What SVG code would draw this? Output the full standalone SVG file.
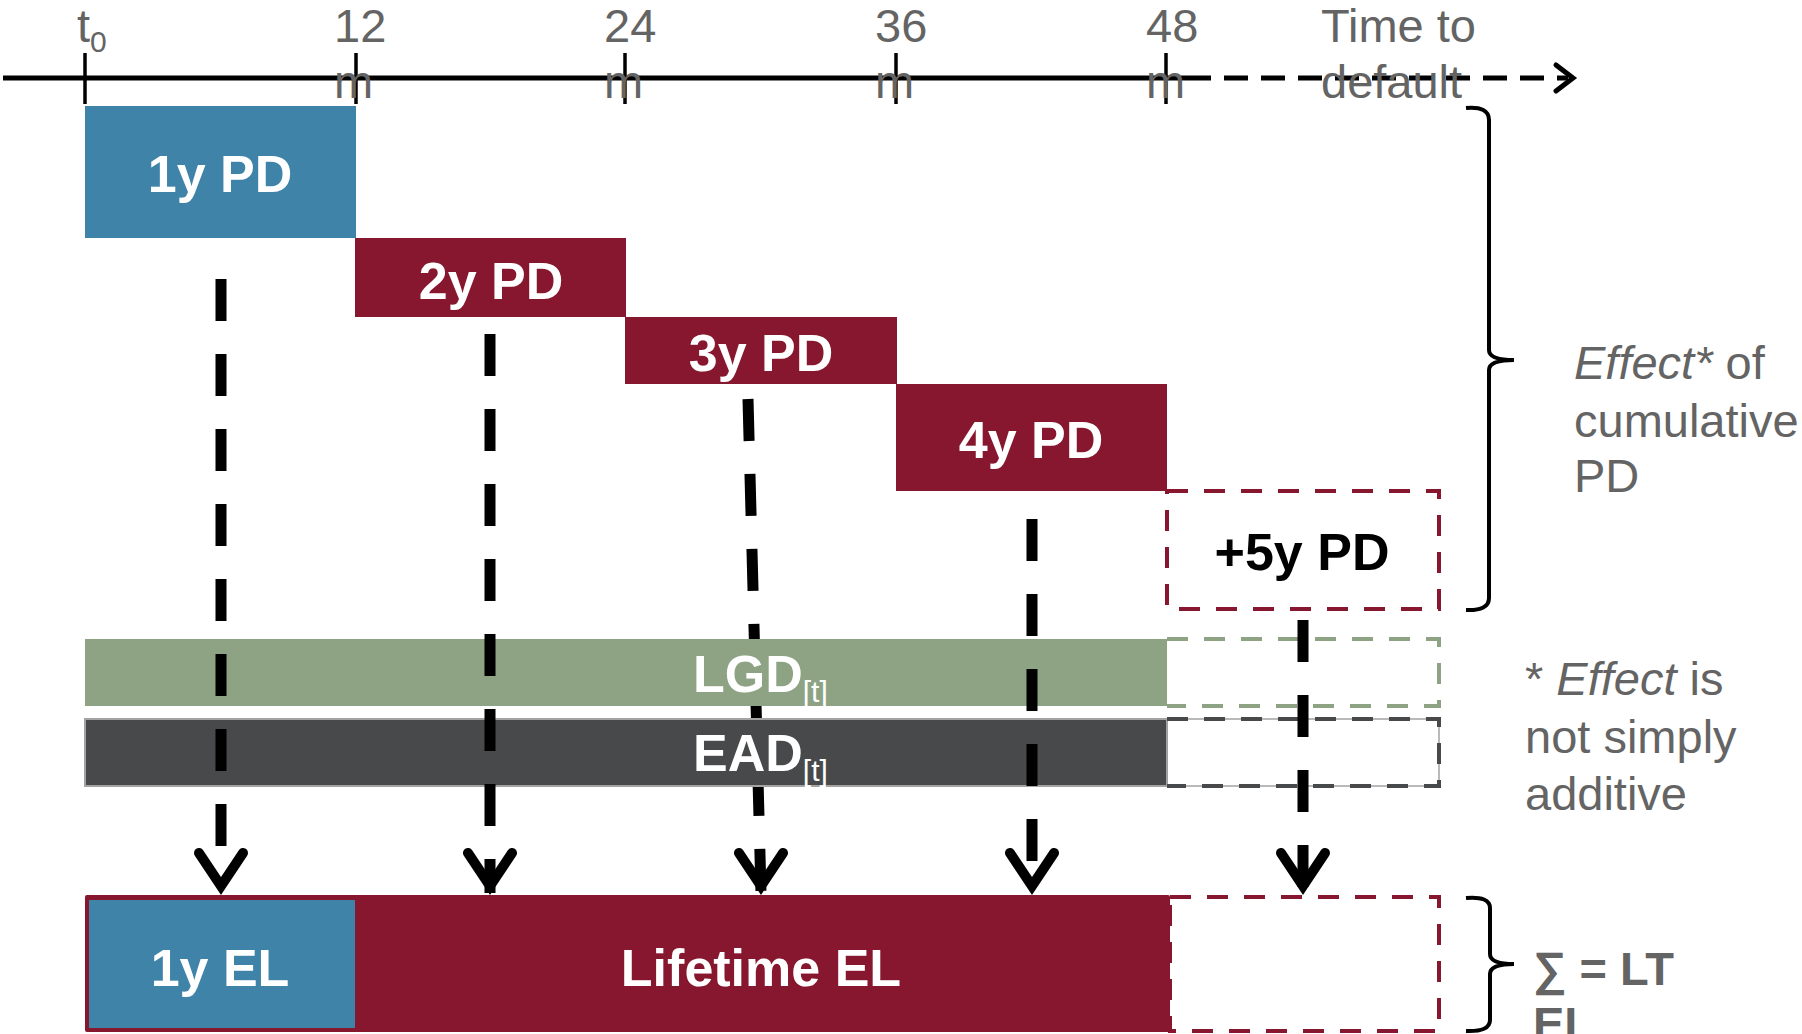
<svg xmlns="http://www.w3.org/2000/svg" width="1802" height="1034" viewBox="0 0 1802 1034">
<style>
.lbl{font-family:"Liberation Sans",Arial,sans-serif;font-size:47px;fill:#646464}
.bw{font-family:"Liberation Sans",Arial,sans-serif;font-size:52px;font-weight:bold;fill:#ffffff;text-anchor:middle}
.sub{font-family:"Liberation Sans",Arial,sans-serif;font-size:30px;font-weight:normal;fill:#ffffff}
.red{fill:#86172e}
.blue{fill:#4083a8}
.dash{fill:none;stroke-width:4;stroke-dasharray:21 16}
.arr{fill:none;stroke:#000;stroke-width:11;stroke-dasharray:42 33}
.head{fill:none;stroke:#000;stroke-width:10;stroke-linecap:round;stroke-linejoin:miter}
.br{fill:none;stroke:#000;stroke-width:4}
</style>
<rect width="1802" height="1034" fill="#ffffff"/>

<g id="axis">
  <line x1="3" y1="78" x2="1187" y2="78" stroke="#000" stroke-width="5"/>
  <line x1="1187" y1="78" x2="1568" y2="78" stroke="#000" stroke-width="5" stroke-dasharray="24 13"/>
  <polyline points="1556,65 1573,78 1556,91" fill="none" stroke="#000" stroke-width="5" stroke-linecap="round"/>
  <g stroke="#000" stroke-width="3.5">
    <line x1="85" y1="53" x2="85" y2="104"/>
    <line x1="356" y1="53" x2="356" y2="104"/>
    <line x1="625" y1="53" x2="625" y2="104"/>
    <line x1="896" y1="53" x2="896" y2="104"/>
    <line x1="1166" y1="53" x2="1166" y2="104"/>
  </g>
  <text class="lbl" x="77" y="42">t<tspan font-size="30" dy="10">0</tspan></text>
  <text class="lbl" x="334" y="42">12</text><text class="lbl" x="334" y="98">m</text>
  <text class="lbl" x="604" y="42">24</text><text class="lbl" x="604" y="98">m</text>
  <text class="lbl" x="875" y="42">36</text><text class="lbl" x="875" y="98">m</text>
  <text class="lbl" x="1146" y="42">48</text><text class="lbl" x="1146" y="98">m</text>
  <text class="lbl" x="1321" y="42">Time to</text>
  <text class="lbl" x="1321" y="98">default</text>
</g>

<g id="connectors-behind">
  <line class="arr" x1="748" y1="399" x2="761" y2="893"/>
  <polyline class="head" points="739,853 761,886 783,853"/>
</g>

<g id="pd1">
  <rect class="blue" x="85" y="106" width="271" height="132"/>
  <text class="bw" x="220" y="192">1y PD</text>
</g>
<g id="pd2">
  <rect class="red" x="355" y="238" width="271" height="79"/>
  <text class="bw" x="491" y="299">2y PD</text>
</g>
<g id="pd3">
  <rect class="red" x="625" y="317" width="272" height="67"/>
  <text class="bw" x="761" y="371">3y PD</text>
</g>
<g id="pd4">
  <rect class="red" x="896" y="384" width="271" height="107"/>
  <text class="bw" x="1031" y="458">4y PD</text>
</g>
<g id="pd5">
  <rect class="dash" x="1167" y="491" width="272" height="118" stroke="#86172e"/>
  <text class="bw" x="1302" y="570" style="fill:#000">+5y PD</text>
</g>

<g id="lgd">
  <rect x="85" y="639" width="1082" height="67" fill="#8ea383"/>
  <path class="dash" d="M1167,639 H1439 V706 H1167" stroke="#8ea383"/>
  <text class="bw" x="693" y="692" style="text-anchor:start">LGD<tspan class="sub" dy="10">[t]</tspan></text>
</g>
<g id="ead">
  <rect x="85" y="719" width="1082" height="67" fill="#48494b" stroke="#a3a3a3" stroke-width="2"/>
  <rect x="1167" y="719" width="272" height="67" fill="none" stroke="#a3a3a3" stroke-width="1.5"/>
  <path class="dash" d="M1167,719 H1439 V786 H1167" stroke="#48494b"/>
  <text class="bw" x="693" y="771" style="text-anchor:start">EAD<tspan class="sub" dy="10">[t]</tspan></text>
</g>

<g id="el">
  <rect class="red" x="85" y="895" width="1085" height="137" rx="2"/>
  <rect class="blue" x="89" y="900" width="266" height="128"/>
  <text class="bw" x="220" y="986">1y EL</text>
  <text class="bw" x="761" y="986">Lifetime EL</text>
  <rect class="dash" x="1170" y="897" width="269" height="134" stroke="#86172e"/>
</g>

<g id="connectors">
  <line class="arr" x1="221" y1="279" x2="221" y2="858"/>
  <polyline class="head" points="199,853 221,886 243,853"/>
  <line class="arr" x1="490" y1="334" x2="490" y2="893"/>
  <polyline class="head" points="468,853 490,886 512,853"/>
  <line class="arr" x1="1032" y1="519" x2="1032" y2="893"/>
  <polyline class="head" points="1010,853 1032,886 1054,853"/>
  <line class="arr" x1="1303" y1="620" x2="1303" y2="893"/>
  <polyline class="head" points="1281,853 1303,886 1325,853"/>
</g>

<g id="brace-pd">
  <path class="br" d="M1466,108 Q1489,106 1489,120 V350 Q1489,360 1514,360 Q1489,360 1489,370 V598 Q1489,611 1466,610"/>
  <text class="lbl" x="1574" y="379"><tspan font-style="italic">Effect*</tspan> of</text>
  <text class="lbl" x="1574" y="437">cumulative</text>
  <text class="lbl" x="1574" y="492">PD</text>
</g>
<g id="note">
  <text class="lbl" x="1525" y="695">*  <tspan font-style="italic">Effect</tspan> is</text>
  <text class="lbl" x="1525" y="753">not simply</text>
  <text class="lbl" x="1525" y="810">additive</text>
</g>
<g id="brace-el">
  <path class="br" d="M1466,898 Q1490,896 1490,908 V954 Q1490,964 1514,964 Q1490,964 1490,974 V1020 Q1490,1032 1466,1031"/>
  <text class="lbl" x="1533" y="985" font-weight="bold">∑ = LT</text>
  <text class="lbl" x="1533" y="1040" font-weight="bold">EL</text>
</g>
</svg>
